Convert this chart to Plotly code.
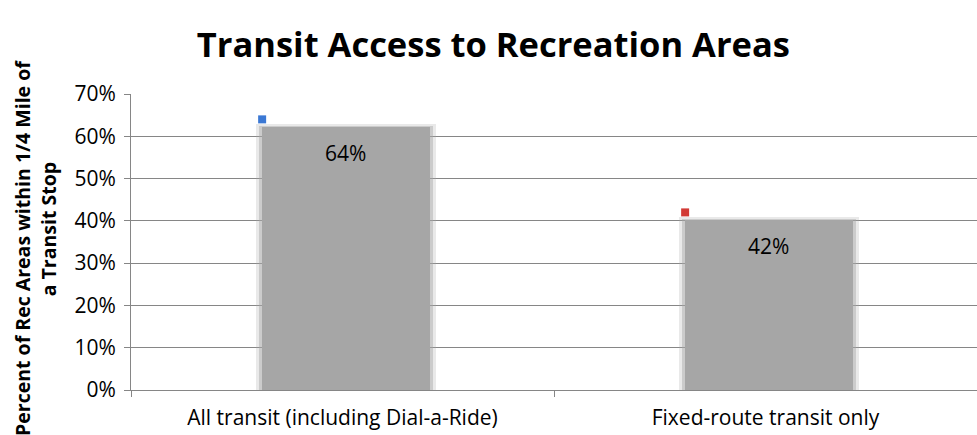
import plotly.graph_objects as go

# Chart data
categories = ["All transit (including Dial-a-Ride)", "Fixed-route transit only"]
share_pct = [64, 42]
marker_colors = ["#3b78d4", "#d23a35"]
y_ticks = [0, 10, 20, 30, 40, 50, 60, 70]
y_tick_labels = ["0%", "10%", "20%", "30%", "40%", "50%", "60%", "70%"]
y_title_lines = ["Percent of Rec Areas within 1/4 Mile of", "a Transit Stop"]

FONT = "'Open Sans', 'Noto Sans', sans-serif"
x_pos = list(range(len(categories)))
BAR_GRAY = "#a6a6a6"
SHADOW_DROP = 1.1      # soft shadow sits slightly below the value
SHADOW_SHIFT = 0.008   # and slightly to the right

fig = go.Figure()

# soft-edged gray columns: a few overlaid layers give a blurred border
layers = [(0.425, 0.9, 0.25), (0.410, 0.5, 0.45), (0.398, 0.2, 1.0)]
for width, extra, opacity in layers:
    fig.add_trace(go.Bar(
        x=[p + SHADOW_SHIFT for p in x_pos],
        y=[v - SHADOW_DROP + extra - 0.9 for v in share_pct],
        width=width,
        marker=dict(color=BAR_GRAY, line=dict(width=0)),
        opacity=opacity,
        hoverinfo="skip",
        showlegend=False,
    ))

# small colored markers at the top-left of each column
fig.add_trace(go.Scatter(
    x=[p - 0.19 for p in x_pos],
    y=share_pct,
    mode="markers",
    marker=dict(symbol="square", size=8, color=marker_colors, line=dict(width=0)),
    showlegend=False,
    hoverinfo="skip",
))

# value labels inside the columns
for p, v in zip(x_pos, share_pct):
    fig.add_annotation(
        x=p + SHADOW_SHIFT, y=v, xref="x", yref="y",
        text=f"{v}%", showarrow=False, yshift=-34,
        xanchor="center", yanchor="middle",
        font=dict(family=FONT, size=21, color="#000000"),
    )

# rotated two-line y-axis title
for line, xp, yp in zip(y_title_lines, [-0.1285, -0.0965], [0.481, 0.544]):
    fig.add_annotation(
        xref="paper", yref="paper", x=xp, y=yp,
        xanchor="center", yanchor="middle",
        text=f"<b>{line}</b>", showarrow=False, textangle=-90,
        font=dict(family=FONT, size=19.5, color="#000000"),
    )

fig.update_layout(
    width=977, height=435,
    margin=dict(l=131, r=0, t=94, b=45),
    paper_bgcolor="white", plot_bgcolor="white",
    barmode="overlay",
    bargap=0,
    title=dict(
        text="<b>Transit Access to Recreation Areas</b>",
        x=0.505, xanchor="center", y=0.897, yanchor="middle",
        font=dict(family=FONT, size=34.5, color="#000000"),
    ),
    font=dict(family=FONT, size=21, color="#000000"),
)

fig.update_xaxes(
    range=[-0.5, 1.5],
    tickmode="array", tickvals=x_pos, ticktext=categories,
    ticks="", showgrid=False, zeroline=False,
    showline=True, linecolor="#868686", linewidth=1,
    minor=dict(tickmode="array", tickvals=[-0.5, 0.5], ticks="outside",
               ticklen=6, tickcolor="#868686", showgrid=False),
    tickfont=dict(family=FONT, size=21),
    ticklabelstandoff=9,
    fixedrange=True,
)

fig.update_yaxes(
    range=[0, 70],
    tickmode="array", tickvals=y_ticks, ticktext=y_tick_labels,
    ticks="outside", ticklen=6, tickcolor="#868686",
    showgrid=True, gridcolor="#868686", gridwidth=1,
    zeroline=False,
    showline=True, linecolor="#868686", linewidth=1,
    layer="above traces",
    tickfont=dict(family=FONT, size=21),
    ticklabelstandoff=4,
    fixedrange=True,
)

fig.write_html("out.html")
